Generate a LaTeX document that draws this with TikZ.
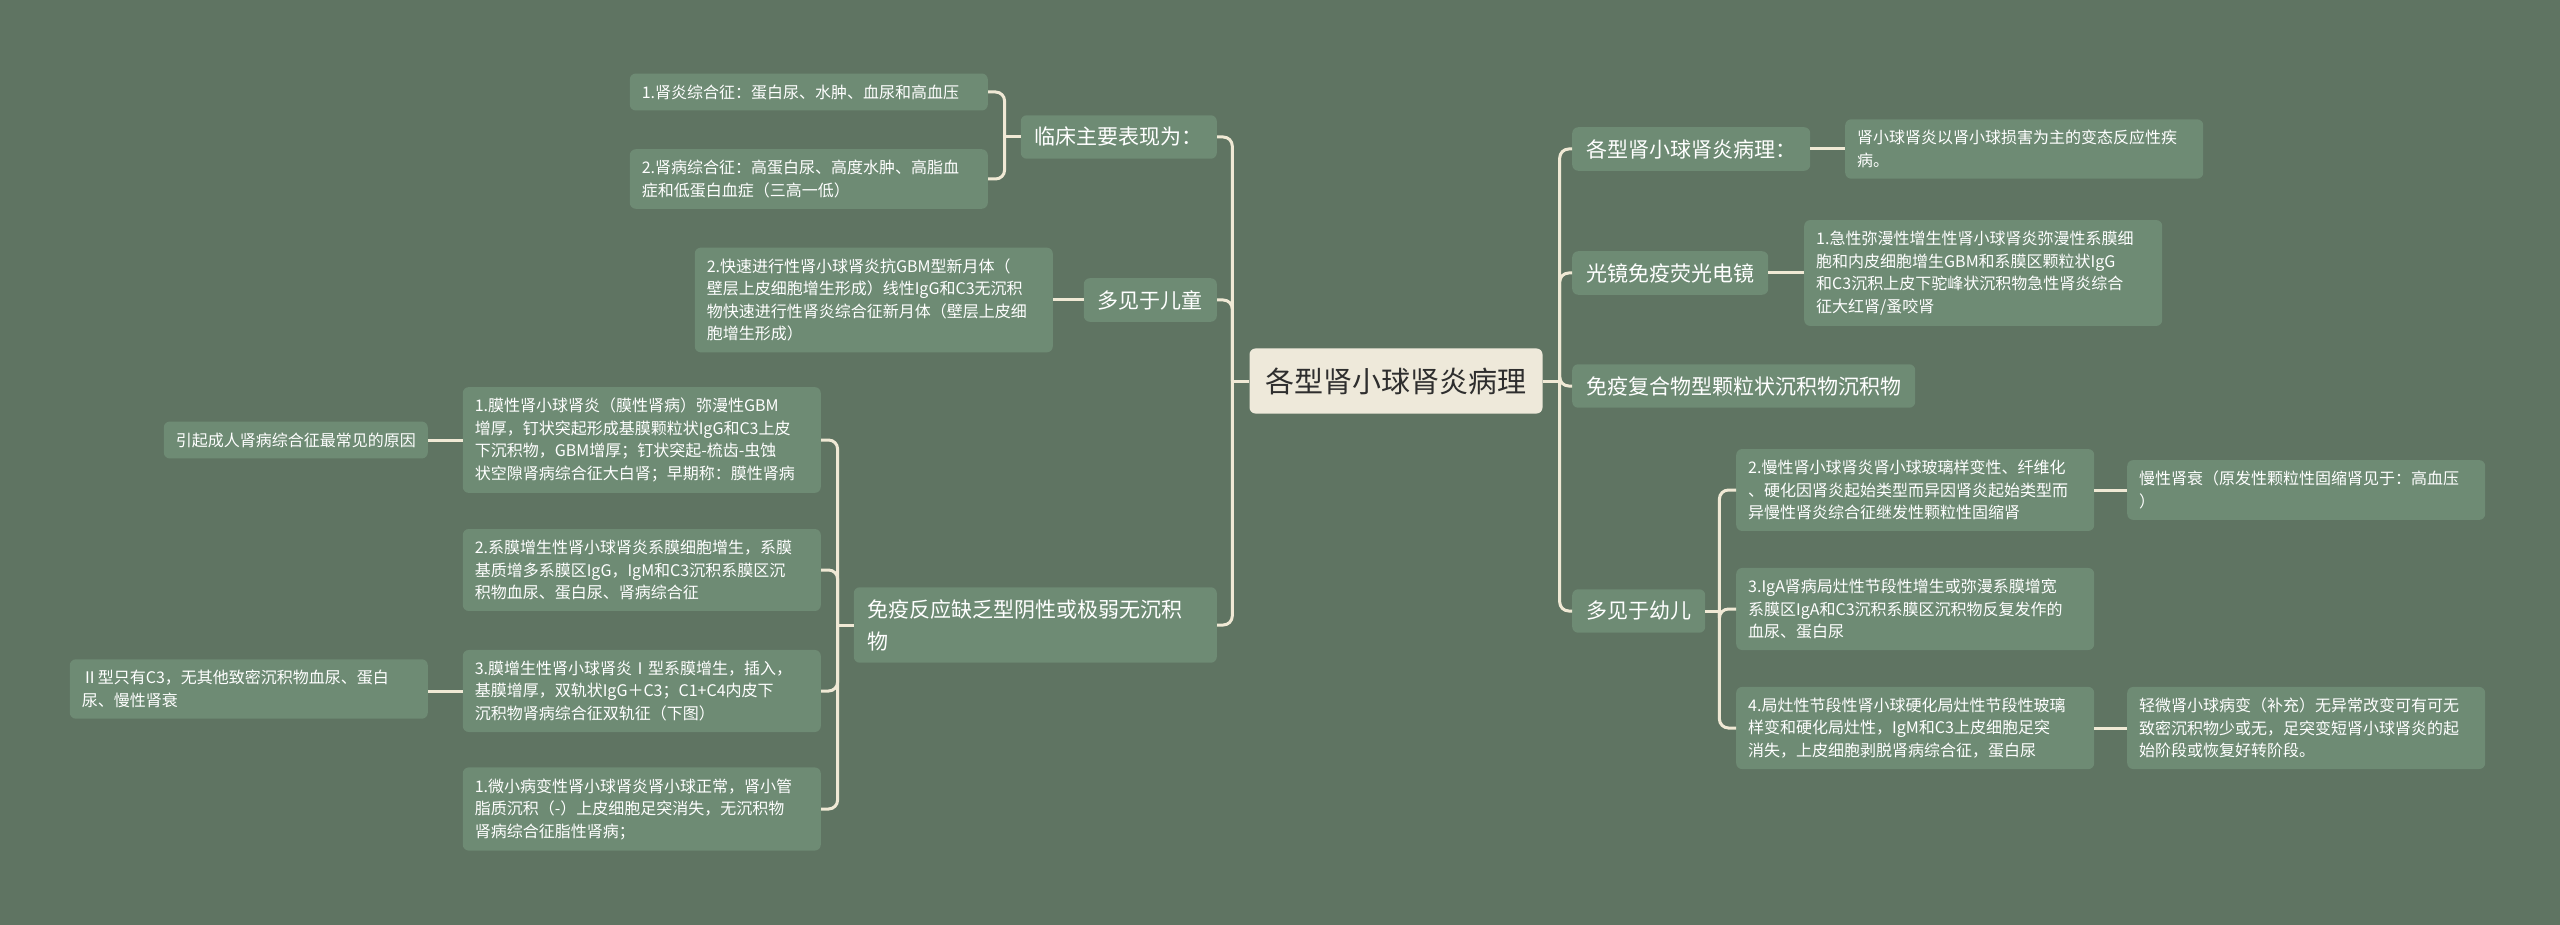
\documentclass[tikz,border=0pt]{standalone}
\usepackage{fontspec}
\newfontfamily\cjkfont{Noto Sans CJK SC}
\usepackage{xcolor}
\usepackage{tikz}
\usetikzlibrary{
    positioning,
}
\definecolor{mapbg}{HTML}{5F7462}
\definecolor{topicfill}{HTML}{6E8B74}
\definecolor{rootfill}{HTML}{EEE9DA}
\definecolor{roottext}{HTML}{2E2E2E}
\definecolor{linkcol}{HTML}{F0E9D5}
\tikzset{
    % Node styles
    topic/.style={rectangle, rounded corners=6pt, fill=topicfill, text=white, align=left},
    root topic/.style={topic, fill=rootfill, text=roottext,
                       font=\cjkfont\fontsize{29}{36}\selectfont, inner xsep=16pt, inner ysep=19pt},
    main topic/.style={topic, font=\cjkfont\fontsize{21}{32}\selectfont, inner xsep=14pt, inner ysep=12pt},
    leaf/.style={topic, font=\cjkfont\fontsize{16}{22.5}\selectfont, inner xsep=12pt, inner ysep=11pt},
    wide leaf/.style={leaf, text width=334pt},
    % Connector styles
    link/.style={draw=linkcol, line width=3pt},
    bend link/.style={link, rounded corners=9pt},
}

\begin{document}
\begin{tikzpicture}[x=1pt, y=-1pt]
    \fill[mapbg] (0,0) rectangle (2560,925);
    \useasboundingbox (0,0) rectangle (2560,925);

    % Root
    \node[root topic] (root) at (1396, 381) {各型肾小球肾炎病理};

    % Left branches
    \node[main topic, anchor=east] (clinic) at (1217, 137) {临床主要表现为：};
    \node[main topic, anchor=east] (child) at (1217, 300) {多见于儿童};
    \node[main topic, anchor=east, text width=335pt] (lack) at (1217, 625) {免疫反应缺乏型阴性或极弱无沉积\\物};

    \node[wide leaf, anchor=east] (clinicA) at (988, 92) {1.肾炎综合征：蛋白尿、水肿、血尿和高血压};
    \node[wide leaf, anchor=east] (clinicB) at (988, 179) {2.肾病综合征：高蛋白尿、高度水肿、高脂血\\症和低蛋白血症（三高一低）};

    \node[wide leaf, anchor=east] (childA) at (1053, 300) {2.快速进行性肾小球肾炎抗GBM型新月体（\\壁层上皮细胞增生形成）线性IgG和C3无沉积\\物快速进行性肾炎综合征新月体（壁层上皮细\\胞增生形成）};

    \node[wide leaf, anchor=east] (lackA) at (821, 440) {1.膜性肾小球肾炎（膜性肾病）弥漫性GBM\\增厚，钉状突起形成基膜颗粒状IgG和C3上皮\\下沉积物，GBM增厚；钉状突起-梳齿-虫蚀\\状空隙肾病综合征大白肾；早期称：膜性肾病};
    \node[wide leaf, anchor=east] (lackB) at (821, 570) {2.系膜增生性肾小球肾炎系膜细胞增生，系膜\\基质增多系膜区IgG，IgM和C3沉积系膜区沉\\积物血尿、蛋白尿、肾病综合征};
    \node[wide leaf, anchor=east] (lackC) at (821, 691) {3.膜增生性肾小球肾炎Ⅰ型系膜增生，插入，\\基膜增厚，双轨状IgG＋C3；C1+C4内皮下\\沉积物肾病综合征双轨征（下图）};
    \node[wide leaf, anchor=east] (lackD) at (821, 809) {1.微小病变性肾小球肾炎肾小球正常，肾小管\\脂质沉积（-）上皮细胞足突消失，无沉积物\\肾病综合征脂性肾病；};

    \node[leaf, anchor=east] (lackAx) at (428, 440) {引起成人肾病综合征最常见的原因};
    \node[wide leaf, anchor=east] (lackCx) at (428, 689) {Ⅱ型只有C3，无其他致密沉积物血尿、蛋白\\尿、慢性肾衰};

    % Right branches
    \node[main topic, anchor=west] (path) at (1572, 149) {各型肾小球肾炎病理：};
    \node[main topic, anchor=west] (scope) at (1572, 273) {光镜免疫荧光电镜};
    \node[main topic, anchor=west] (immune) at (1572, 386) {免疫复合物型颗粒状沉积物沉积物};
    \node[main topic, anchor=west] (infant) at (1572, 611) {多见于幼儿};

    \node[wide leaf, anchor=west] (pathA) at (1845, 149) {肾小球肾炎以肾小球损害为主的变态反应性疾\\病。};
    \node[wide leaf, anchor=west] (scopeA) at (1804, 273) {1.急性弥漫性增生性肾小球肾炎弥漫性系膜细\\胞和内皮细胞增生GBM和系膜区颗粒状IgG\\和C3沉积上皮下驼峰状沉积物急性肾炎综合\\征大红肾/蚤咬肾};

    \node[wide leaf, anchor=west] (infantA) at (1736, 490) {2.慢性肾小球肾炎肾小球玻璃样变性、纤维化\\、硬化因肾炎起始类型而异因肾炎起始类型而\\异慢性肾炎综合征继发性颗粒性固缩肾};
    \node[wide leaf, anchor=west] (infantB) at (1736, 609) {3.IgA肾病局灶性节段性增生或弥漫系膜增宽\\系膜区IgA和C3沉积系膜区沉积物反复发作的\\血尿、蛋白尿};
    \node[wide leaf, anchor=west] (infantC) at (1736, 728) {4.局灶性节段性肾小球硬化局灶性节段性玻璃\\样变和硬化局灶性，IgM和C3上皮细胞足突\\消失，上皮细胞剥脱肾病综合征，蛋白尿};

    \node[wide leaf, anchor=west] (infantAx) at (2127, 490) {慢性肾衰（原发性颗粒性固缩肾见于：高血压\\）};
    \node[wide leaf, anchor=west] (infantCx) at (2127, 728) {轻微肾小球病变（补充）无异常改变可有可无\\致密沉积物少或无，足突变短肾小球肾炎的起\\始阶段或恢复好转阶段。};

    % Trunk links
    \draw[link] (root.west) -- ++(-17,0) coordinate (lhub);
    \draw[link] (root.east) -- ++(17,0) coordinate (rhub);
    \foreach \t in {clinic, child, lack}
        \draw[bend link] (lhub) |- (\t.east);
    \foreach \t in {path, scope, immune, infant}
        \draw[bend link] (rhub) |- (\t.west);

    % Left sub links
    \draw[link] (clinic.west) -- ++(-16,0) coordinate (clinichub);
    \foreach \t in {clinicA, clinicB}
        \draw[bend link] (clinichub) |- (\t.east);
    \draw[link] (child.west) -- (childA.east);
    \draw[link] (lack.west) -- ++(-16,0) coordinate (lackhub);
    \foreach \t in {lackA, lackB, lackC, lackD}
        \draw[bend link] (lackhub) |- (\t.east);
    \draw[link] (lackA.west) -- (lackAx.east);
    \draw[link] (lackC.west) -- (lackC.west -| lackCx.east);

    % Right sub links
    \draw[link] (path.east) -- (pathA.west);
    \draw[link] (scope.east) -- (scopeA.west);
    \draw[link] (infant.east) -- ++(14,0) coordinate (infanthub);
    \foreach \t in {infantA, infantB, infantC}
        \draw[bend link] (infanthub) |- (\t.west);
    \draw[link] (infantA.east) -- (infantAx.west);
    \draw[link] (infantC.east) -- (infantCx.west);
\end{tikzpicture}
\end{document}
